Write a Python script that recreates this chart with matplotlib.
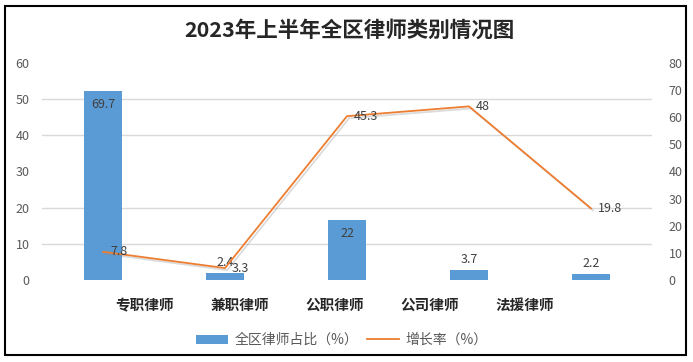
import matplotlib
matplotlib.use("Agg")
import matplotlib.pyplot as plt
import matplotlib.patheffects as pe
from matplotlib.patches import Rectangle, Patch
from matplotlib.lines import Line2D
from matplotlib.ticker import FixedLocator
import numpy as np

plt.rcParams['font.family'] = ['Noto Sans CJK SC', 'DejaVu Sans']

categories = ['专职律师', '兼职律师', '公职律师', '公司律师', '法援律师']
share = [69.7, 2.4, 22, 3.7, 2.2]          # 全区律师占比（%） - right axis
growth = [7.8, 3.3, 45.3, 48, 19.8]        # 增长率（%） - left axis
title = '2023年上半年全区律师类别情况图'
left_ticks = list(range(0, 61, 10))
right_ticks = list(range(0, 81, 10))

BAR = '#5B9BD5'
LINE = '#ED7D31'
TXT = '#404040'
TICK = '#595959'
GRID = '#D9D9D9'

W, H = 693, 362
fig = plt.figure(figsize=(W / 100, H / 100), dpi=100)

l, r, t, b = 42, 652, 63, 280
pos = [l / W, 1 - b / H, (r - l) / W, (b - t) / H]
ax2 = fig.add_axes(pos)   # bars (right axis)
ax = ax2.twinx()          # line (left axis)

x = np.arange(len(categories))
bars = ax2.bar(x, share, width=0.31, color=BAR, zorder=2)
ax2.set_ylim(0, 80)
ax2.set_xlim(-0.5, len(categories) - 0.5)
ax2.yaxis.tick_right()
ax2.set_yticks(right_ticks)
# gridlines aligned to the left axis ticks, drawn below bars
ax2.yaxis.set_minor_locator(FixedLocator([v * 80 / 60 for v in left_ticks]))
ax2.grid(which='minor', axis='y', color=GRID, linewidth=1.0, zorder=0)
ax2.set_axisbelow(True)

ax.set_ylim(0, 60)
ax.yaxis.tick_left()
ax.set_yticks(left_ticks)

line, = ax.plot(x, growth, color=LINE, linewidth=1.3, zorder=3,
                path_effects=[pe.SimpleLineShadow(offset=(1.5, -1.5), shadow_color='#888888', alpha=0.3),
                              pe.Normal()])

for a in (ax, ax2):
    for s in a.spines.values():
        s.set_visible(False)
    a.tick_params(axis='both', which='both', length=0, labelsize=9, labelcolor=TICK)
ax.tick_params(axis='y', pad=9)
ax2.tick_params(axis='y', pad=12)
ax2.set_xticks([])
ax.set_xticks([])

# bar labels
for i, v in enumerate(share):
    if v > 10:
        ax2.annotate(f'{v:g}', (x[i], v), xytext=(0, -5), textcoords='offset points',
                     ha='center', va='top', fontsize=9, color=TXT, zorder=5)
    else:
        ax2.annotate(f'{v:g}', (x[i], v), xytext=(0, 3), textcoords='offset points',
                     ha='center', va='bottom', fontsize=9, color=TXT, zorder=5)

# line labels
for i, v in enumerate(growth):
    ax.annotate(f'{v:g}', (x[i], v), xytext=(5, 0), textcoords='offset points',
                ha='left', va='center', fontsize=9, color=TXT, zorder=6)

# category labels (offset as in the reference)
for i, c in enumerate(categories):
    ax2.text(0.34 + 0.78 * i, -0.115, c, transform=ax2.get_xaxis_transform(),
             ha='center', va='center', fontsize=10.5, fontweight='bold', color='#262626')

fig.text(349 / W, 1 - 30 / H, title, ha='center', va='center', fontsize=15.5,
         fontweight='bold', color='#262626')

handles = [Patch(facecolor=BAR, edgecolor='none'), Line2D([0], [0], color=LINE, linewidth=1.3)]
leg = fig.legend(handles, ['全区律师占比（%）', '增长率（%）'], loc='center',
                 bbox_to_anchor=(342 / W, 1 - 340 / H), ncol=2, frameon=False, fontsize=10,
                 handlelength=2.3, handleheight=0.6, columnspacing=0.6, handletextpad=0.5)
for tx in leg.get_texts():
    tx.set_color(TICK)

fig.patches.append(Rectangle((5 / W, 1 - 355 / H), 681 / W, 349 / H, transform=fig.transFigure,
                             fill=False, edgecolor='black', linewidth=1.5))

fig.savefig('out.png', dpi=100)
